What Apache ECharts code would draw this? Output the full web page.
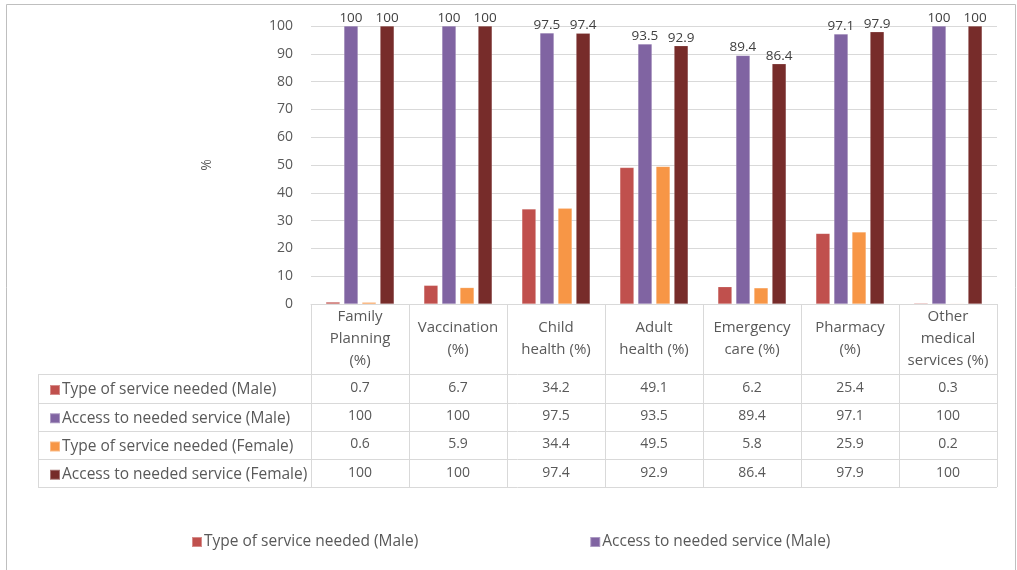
<!DOCTYPE html>
<html>
<head>
<meta charset="utf-8">
<script src="https://cdn.jsdelivr.net/npm/echarts@6/dist/echarts.min.js"></script>
<style>
  html, body { margin: 0; padding: 0; background: #ffffff; }
  #chart { width: 1017px; height: 570px; }
</style>
</head>
<body>
<div id="chart"></div>
<script>
// Service categories (column headers of the data table)
const categories = [
  'Family\nPlanning\n(%)',
  'Vaccination\n(%)',
  'Child\nhealth (%)',
  'Adult\nhealth (%)',
  'Emergency\ncare (%)',
  'Pharmacy\n(%)',
  'Other\nmedical\nservices (%)'
];

const seriesNames = [
  'Type of service needed (Male)',
  'Access to needed service (Male)',
  'Type of service needed (Female)',
  'Access to needed service (Female)'
];

const typeMale     = [0.7, 6.7, 34.2, 49.1, 6.2, 25.4, 0.3];
const accessMale   = [100, 100, 97.5, 93.5, 89.4, 97.1, 100];
const typeFemale   = [0.6, 5.9, 34.4, 49.5, 5.8, 25.9, 0.2];
const accessFemale = [100, 100, 97.4, 92.9, 86.4, 97.9, 100];

const yTicks = { min: 0, max: 100, interval: 10 };

const seriesValues = [typeMale, accessMale, typeFemale, accessFemale];
const colors = ['#C0504D', '#8064A2', '#F79646', '#772C2A'];

const FONT = 'Open Sans';
const TXT = '#595959';
const LINE = '#d9d9d9';

// layout of the plot and the table under it
const gridLeft = 311, gridRight = 997, gridTop = 26, gridBottom = 304;
const rowLines = [374, 402.5, 430.5, 458.5, 487];
const tableLeft = 38;

// one hidden-line category axis per table row, used only to print values
const rowAxes = seriesValues.map((vals, i) => ({
  type: 'category',
  gridIndex: 0,
  position: 'bottom',
  data: vals.map(v => String(v)),
  axisLine: { show: false },
  axisTick: { show: false },
  axisLabel: {
    interval: 0,
    margin: (rowLines[i] + rowLines[i + 1]) / 2 - gridBottom,
    verticalAlign: 'middle',
    color: TXT,
    fontFamily: FONT,
    fontSize: 14
  }
}));

const graphics = [
  {
    type: 'rect',
    shape: { x: 6.5, y: 4.5, width: 1009, height: 600 },
    style: { fill: 'none', stroke: '#bfbfbf', lineWidth: 1 },
    silent: true
  },
  {
    type: 'line',
    shape: { x1: tableLeft + 0.5, y1: rowLines[0], x2: tableLeft + 0.5, y2: rowLines[4] },
    style: { stroke: LINE, lineWidth: 1 },
    silent: true
  }
].concat(rowLines.map(y => ({
  type: 'line',
  shape: { x1: tableLeft, y1: Math.round(y) + 0.5, x2: gridRight, y2: Math.round(y) + 0.5 },
  style: { stroke: LINE, lineWidth: 1 },
  silent: true
})));

const chart = echarts.init(document.getElementById('chart'));
chart.setOption({
  animation: false,
  color: colors,
  textStyle: { fontFamily: FONT },
  grid: {
    left: gridLeft,
    right: 1017 - gridRight,
    top: gridTop,
    bottom: 570 - gridBottom,
    containLabel: false
  },
  legend: [
    {
      orient: 'vertical',
      left: 44,
      top: 376,
      itemWidth: 10,
      itemHeight: 10,
      itemGap: 10.25,
      icon: 'rect',
      selectedMode: false,
      data: seriesNames,
      textStyle: { color: TXT, fontFamily: FONT, fontSize: 15.5, lineHeight: 18, padding: [0, 0, 0, -3] }
    },
    {
      orient: 'horizontal',
      left: 186,
      top: 528,
      itemWidth: 10,
      itemHeight: 10,
      itemGap: 171,
      icon: 'rect',
      selectedMode: false,
      data: seriesNames.slice(0, 2),
      textStyle: { color: TXT, fontFamily: FONT, fontSize: 15.5, lineHeight: 18, padding: [0, 0, 0, -3] }
    }
  ],
  xAxis: [
    {
      type: 'category',
      data: categories,
      axisLine: { show: true, lineStyle: { color: LINE } },
      axisTick: {
        show: true,
        interval: 0,
        alignWithLabel: false,
        length: rowLines[4] - gridBottom,
        lineStyle: { color: LINE }
      },
      axisLabel: {
        interval: 0,
        margin: 35,
        verticalAlign: 'middle',
        lineHeight: 22,
        color: TXT,
        fontFamily: FONT,
        fontSize: 15
      }
    }
  ].concat(rowAxes),
  yAxis: {
    type: 'value',
    min: yTicks.min,
    max: yTicks.max,
    interval: yTicks.interval,
    name: '%',
    nameLocation: 'middle',
    nameGap: 97,
    nameRotate: 90,
    nameTextStyle: { color: TXT, fontFamily: FONT, fontSize: 14 },
    axisLine: { show: false },
    axisTick: { show: false },
    axisLabel: { margin: 18, color: TXT, fontFamily: FONT, fontSize: 14 },
    splitLine: { lineStyle: { color: LINE } }
  },
  series: seriesValues.map((vals, i) => ({
    name: seriesNames[i],
    type: 'bar',
    xAxisIndex: 0,
    data: vals,
    barWidth: 14,
    barGap: '29%',
    itemStyle: { color: colors[i], borderColor: 'rgba(255,255,255,0.35)', borderWidth: 0.5 },
    label: {
      show: i % 2 === 1,
      position: 'top',
      distance: 1,
      color: '#404040',
      fontFamily: FONT,
      fontSize: 13.5
    }
  })),
  graphic: graphics
});
</script>
</body>
</html>
